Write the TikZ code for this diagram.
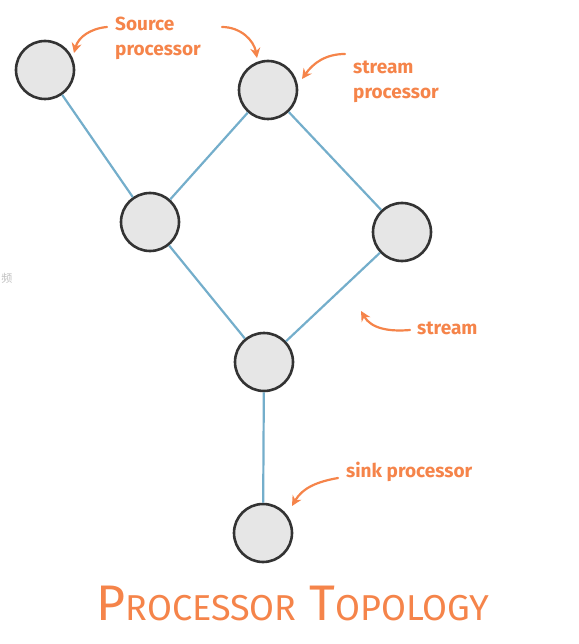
\documentclass[tikz,border=0pt]{standalone}
\usepackage{fontspec}
\setmainfont{Fira Sans}
\newfontfamily\cjk{Noto Sans CJK SC}
\usetikzlibrary{arrows.meta}
\definecolor{notecol}{HTML}{F5844A}
\definecolor{edgecol}{HTML}{74AECB}
\definecolor{proccol}{HTML}{E6E6E6}

\begin{document}
\begin{tikzpicture}[
  x=1pt, y=-1pt,
  proc/.style={circle, draw=black!80, fill=proccol, line width=2.6pt, minimum size=58pt, inner sep=0pt},
  edge/.style={edgecol, line width=2.2pt},
  note/.style={text=notecol, font=\bfseries\fontsize{19}{25}\selectfont, align=left, inner sep=1pt},
  pointer/.style={notecol, line width=2.2pt, line cap=round, -{Stealth[length=10pt, width=10pt]}}
]
\useasboundingbox (0,0) rectangle (578,644);

% processors
\node [proc] (src)   at (45,70)   {};
\node [proc] (top)   at (268,90)  {};
\node [proc] (left)  at (150,222) {};
\node [proc] (right) at (402,232) {};
\node [proc] (join)  at (264,362) {};
\node [proc] (sink)  at (263,533) {};

% streams
\draw [edge] (src) -- (left);
\draw [edge] (top) -- (left);
\draw [edge] (top) -- (right);
\draw [edge] (left) -- (join);
\draw [edge] (right) -- (join);
\draw [edge] (join) -- (sink);

% notes
\node [note, anchor=west] (srclbl) at (114,38) {Source\\processor};
\node [note, anchor=west] (stplbl) at (352,82) {stream\\processor};
\node [note, anchor=west] (stlbl)  at (416,328) {stream};
\node [note, anchor=west] (snklbl) at (345,472) {sink processor};

\coordinate (srcbeg) at (107,27);
\coordinate (srcend) at (74,53);
\coordinate (topbeg) at (222,27);
\coordinate (topend) at (257,58);
\coordinate (stpbeg) at (345,54);
\coordinate (stpend) at (302,79);
\coordinate (stbeg)  at (410,330);
\coordinate (stend)  at (361,311);
\coordinate (snkbeg) at (338,478);
\coordinate (snkend) at (292,506);

\draw [pointer] (srcbeg) to [out=185, in=75] (srcend);
\draw [pointer] (topbeg) to [out=0, in=100] (topend);
\draw [pointer] (stpbeg) to [out=180, in=55] (stpend);
\draw [pointer] (stbeg) to [out=185, in=-60] (stend);
\draw [pointer] (snkbeg) to [out=190, in=60] (snkend);

% title
\node [text=notecol, font=\fontsize{50}{54}\selectfont] (title) at (293,603)
  {P{\fontsize{36}{40}\selectfont ROCESSOR} T{\fontsize{36}{40}\selectfont OPOLOGY}};

% faint mark at left edge
\node [text=black!25, font=\cjk\fontsize{11}{11}\selectfont, inner sep=0pt] (mark) at (7,278) {频};
\end{tikzpicture}
\end{document}
